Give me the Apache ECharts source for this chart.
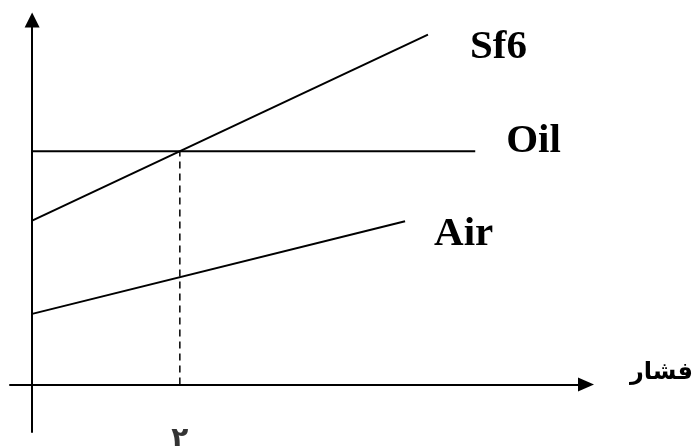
<!DOCTYPE html>
<html>
<head>
<meta charset="utf-8">
<script src="https://cdn.jsdelivr.net/npm/echarts@6/dist/echarts.min.js"></script>
<style>
html,body{margin:0;padding:0;background:#fff;}
#chart{width:696px;height:446px;}
</style>
</head>
<body>
<div id="chart"></div>
<script>
// Data (abstract units: x axis in pressure units, tick "۲" at x=2)
const seriesNames = ['Sf6', 'Oil', 'Air'];
const sf6X = [0, 5.36];
const sf6Y = [2.25, 4.8];
const oilX = [0, 6.0];
const oilY = [3.2, 3.2];
const airX = [0, 5.05];
const airY = [0.97, 2.24];
const markerX = [2, 2];
const markerY = [0, 3.2];
const xTickValues = [2];
const xTickLabels = ['۲'];
const xAxisName = 'فشار';

const pts = (xs, ys) => xs.map((x, i) => [x, ys[i]]);

const chart = echarts.init(document.getElementById('chart'), null, {renderer: 'canvas'});

const labelFont = {
  fontFamily: '"Liberation Serif", "Times New Roman", serif',
  fontWeight: 'bold',
  fontSize: 41,
  color: '#000'
};

function lineSeries(name, data, labelOffset) {
  return {
    name: name,
    type: 'line',
    data: data,
    showSymbol: false,
    symbol: 'none',
    silent: true,
    animation: false,
    lineStyle: {color: '#000', width: 2},
    endLabel: Object.assign({
      show: true,
      formatter: '{a}',
      distance: labelOffset[0],
      offset: [0, labelOffset[1]],
      align: 'left',
      verticalAlign: 'middle'
    }, labelFont)
  };
}

chart.setOption({
  animation: false,
  backgroundColor: '#fff',
  grid: {
    left: 10, right: 110, top: 20, bottom: 14,
    containLabel: false,
    outerBounds: {left: -1000, right: -1000, top: -1000, bottom: -1000}
  },
  xAxis: {
    type: 'value',
    min: -0.3,
    max: 7.5,
    splitLine: {show: false},
    axisTick: {show: false},
    axisLabel: {show: false},
    axisLine: {
      show: true,
      onZero: true,
      symbol: ['none', 'triangle'],
      symbolSize: [14, 16],
      lineStyle: {color: '#000', width: 2}
    },
    name: xAxisName,
    nameLocation: 'end',
    nameGap: 44,
    nameTextStyle: {
      fontSize: 24,
      fontWeight: 'bold',
      fontFamily: '"DejaVu Sans", sans-serif',
      color: '#000',
      align: 'left',
      verticalAlign: 'bottom'
    }
  },
  yAxis: {
    type: 'value',
    min: -0.65,
    max: 5,
    splitLine: {show: false},
    axisTick: {show: false},
    axisLabel: {show: false},
    axisLine: {
      show: true,
      onZero: true,
      symbol: ['none', 'triangle'],
      symbolSize: [15, 15],
      lineStyle: {color: '#000', width: 2}
    }
  },
  series: [
    lineSeries(seriesNames[0], pts(sf6X, sf6Y), [42, 13]),
    lineSeries(seriesNames[1], pts(oilX, oilY), [31, -10]),
    lineSeries(seriesNames[2], pts(airX, airY), [29, 13]),
    {
      name: 'marker',
      type: 'line',
      data: pts(markerX, markerY),
      showSymbol: false,
      symbol: 'none',
      silent: true,
      lineStyle: {color: '#000', width: 1.5, type: [7, 5]}
    },
    {
      // x tick label(s), placed at the tick value on the x axis
      name: 'ticks',
      type: 'scatter',
      data: xTickValues.map(function (v) { return [v, 0]; }),
      symbol: 'circle',
      symbolSize: 1,
      silent: true,
      itemStyle: {color: '#000'},
      label: {
        show: true,
        position: 'bottom',
        distance: 41,
        offset: [4, 0],
        formatter: function (p) { return xTickLabels[xTickValues.indexOf(p.value[0])]; },
        fontSize: 28,
        fontWeight: 'bold',
        fontFamily: '"DejaVu Sans", sans-serif',
        color: '#000'
      },
      labelLayout: {hideOverlap: false}
    }
  ]
});
</script>
</body>
</html>
